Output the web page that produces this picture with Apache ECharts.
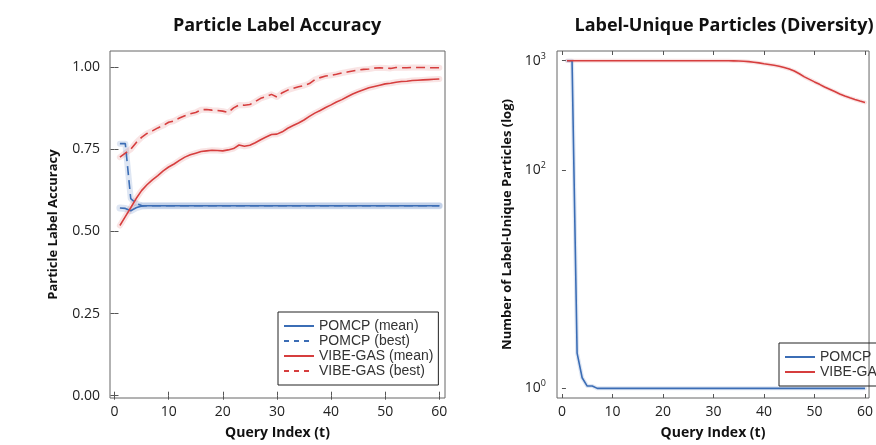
<!DOCTYPE html>
<html><head><meta charset="utf-8">
<script src="https://cdn.jsdelivr.net/npm/echarts@6/dist/echarts.min.js"></script>
<style>html,body{margin:0;padding:0;background:#fff}#c{width:876px;height:445px}</style>
</head><body><div id="c"></div>
<script>
// ---------- data ----------
const queryIndex = [1,2,3,4,5,6,7,8,9,10,11,12,13,14,15,16,17,18,19,20,21,22,23,24,25,26,27,28,29,30,
  31,32,33,34,35,36,37,38,39,40,41,42,43,44,45,46,47,48,49,50,51,52,53,54,55,56,57,58,59,60];
const xTicks = [0,10,20,30,40,50,60];
const accTicks = [0,0.25,0.5,0.75,1.0];
const divTicks = [1,100,1000];

const pomcpMeanAcc = [0.571,0.570,0.563,0.572,0.577,0.578,0.578,0.578,0.578,0.578,0.578,0.578,0.578,0.578,0.578,
  0.578,0.578,0.578,0.578,0.578,0.578,0.578,0.578,0.578,0.578,0.578,0.578,0.578,0.578,0.578,
  0.578,0.578,0.578,0.578,0.578,0.578,0.578,0.578,0.578,0.578,0.578,0.578,0.578,0.578,0.578,
  0.578,0.578,0.578,0.578,0.578,0.578,0.578,0.578,0.578,0.578,0.578,0.578,0.578,0.578,0.578];
const pomcpBestAcc = [0.767,0.767,0.600,0.585,0.579,0.578,0.578,0.578,0.578,0.578,0.578,0.578,0.578,0.578,0.578,
  0.578,0.578,0.578,0.578,0.578,0.578,0.578,0.578,0.578,0.578,0.578,0.578,0.578,0.578,0.578,
  0.578,0.578,0.578,0.578,0.578,0.578,0.578,0.578,0.578,0.578,0.578,0.578,0.578,0.578,0.578,
  0.578,0.578,0.578,0.578,0.578,0.578,0.578,0.578,0.578,0.578,0.578,0.578,0.578,0.578,0.578];
const vibeMeanAcc = [0.518,0.545,0.572,0.600,0.624,0.642,0.657,0.670,0.684,0.696,0.705,0.716,0.726,0.733,0.738,
  0.743,0.745,0.747,0.746,0.745,0.748,0.752,0.763,0.759,0.762,0.770,0.779,0.787,0.795,0.796,
  0.803,0.814,0.822,0.830,0.839,0.850,0.860,0.868,0.877,0.885,0.894,0.901,0.910,0.918,0.925,
  0.931,0.937,0.941,0.945,0.949,0.951,0.954,0.956,0.957,0.959,0.960,0.961,0.962,0.963,0.964];
const vibeBestAcc = [0.726,0.738,0.750,0.770,0.786,0.798,0.806,0.815,0.822,0.832,0.836,0.845,0.852,0.858,0.862,
  0.870,0.871,0.869,0.868,0.866,0.862,0.876,0.885,0.884,0.886,0.895,0.905,0.910,0.917,0.909,
  0.922,0.930,0.935,0.940,0.944,0.950,0.962,0.968,0.973,0.975,0.978,0.982,0.985,0.988,0.991,
  0.993,0.994,0.997,0.998,0.997,0.996,0.999,0.998,0.998,0.999,0.999,0.999,0.998,0.998,0.998];
const pomcpDiv = [1000,1000,2.1,1.25,1.05,1.05,1.0,1.0,1.0,1.0,1.0,1.0,1.0,1.0,1.0,
  1.0,1.0,1.0,1.0,1.0,1.0,1.0,1.0,1.0,1.0,1.0,1.0,1.0,1.0,1.0,
  1.0,1.0,1.0,1.0,1.0,1.0,1.0,1.0,1.0,1.0,1.0,1.0,1.0,1.0,1.0,
  1.0,1.0,1.0,1.0,1.0,1.0,1.0,1.0,1.0,1.0,1.0,1.0,1.0,1.0,1.0];
const vibeDiv = [1000,1000,1000,1000,1000,1000,1000,1000,1000,1000,1000,1000,1000,1000,1000,
  1000,1000,1000,1000,1000,1000,1000,1000,1000,1000,1000,1000,1000,1000,1000,
  1000,1000,999,997,994,989,981,970,956,940,925,908,890,866,840,
  805,760,712,675,640,608,575,548,522,497,475,458,442,428,415];

// ---------- style ----------
const BLUE = '#3B6DB5', RED = '#D63E3E';
const BLUE_BAND = 'rgba(59,109,181,0.17)', RED_BAND = 'rgba(214,62,62,0.14)';
const FONT = '"Open Sans", sans-serif';
const LFONT = '"Liberation Sans", Arial, sans-serif';
const pairs = arr => queryIndex.map((t, i) => [t, arr[i]]);
const tickStyle = {inside: true, length: 4, lineStyle: {color: '#555', width: 1}};
const labelStyle = {fontFamily: FONT, fontSize: 14, color: '#222'};
const nameStyle = {fontFamily: FONT, fontWeight: 'bold', color: '#111'};

function xAxisPair(gridIndex, min, max) {
  return [
    {type: 'value', gridIndex, min, max, position: 'bottom',
     name: 'Query Index (t)', nameLocation: 'middle', nameGap: 28,
     nameTextStyle: Object.assign({fontSize: 14}, nameStyle),
     axisLine: {show: false}, splitLine: {show: false},
     axisTick: Object.assign({customValues: xTicks}, tickStyle),
     axisLabel: Object.assign({customValues: xTicks, margin: 7}, labelStyle)},
    {type: 'value', gridIndex, min, max, position: 'top',
     axisLine: {show: false}, splitLine: {show: false},
     axisTick: Object.assign({customValues: xTicks}, tickStyle),
     axisLabel: {show: false}}
  ];
}

function line(name, data, color, dashed, xi, yi, z) {
  return {type: 'line', name, data: pairs(data), xAxisIndex: xi, yAxisIndex: yi,
    symbol: 'none', showSymbol: false, z: z,
    lineStyle: {color, width: 1.6, type: dashed ? [9, 5] : 'solid'}, itemStyle: {color},
    emphasis: {disabled: true}};
}
function band(data, color, width, xi, yi, z) {
  return {type: 'line', name: '_band', data: pairs(data), xAxisIndex: xi, yAxisIndex: yi,
    symbol: 'none', showSymbol: false, silent: true, z: z,
    lineStyle: {color, width, cap: 'round', join: 'round'}, emphasis: {disabled: true}, tooltip: {show: false}};
}

const legendBase = {orient: 'vertical', padding: [7, 5, 7, 5], borderColor: '#222', borderWidth: 1,
  itemWidth: 30, itemHeight: 14, itemGap: 1, selectedMode: false,
  itemStyle: {color: 'rgba(0,0,0,0)', borderWidth: 0, opacity: 0},
  textStyle: {fontFamily: LFONT, fontSize: 14, color: '#333'}};

const option = {
  animation: false,
  backgroundColor: '#fff',
  title: [
    {text: 'Particle Label Accuracy', left: 277, top: 17, textAlign: 'center', padding: 0,
     textStyle: {fontFamily: FONT, fontWeight: 'bold', fontSize: 18, color: '#111'}},
    {text: 'Label-Unique Particles (Diversity)', left: 724, top: 17, textAlign: 'center', padding: 0,
     textStyle: {fontFamily: FONT, fontWeight: 'bold', fontSize: 18, color: '#111'}}
  ],
  grid: [
    {left: 110, top: 51, width: 335, height: 348, show: true, borderColor: '#666', borderWidth: 1, backgroundColor: '#fff'},
    {left: 557, top: 51, width: 335, height: 348, show: true, borderColor: '#666', borderWidth: 1, backgroundColor: '#fff'}
  ],
  xAxis: [].concat(xAxisPair(0, -0.83, 61.05), xAxisPair(1, -0.98, 60.8)),
  yAxis: [
    {type: 'value', gridIndex: 0, min: -0.007, max: 1.049, position: 'left',
     name: 'Particle Label Accuracy', nameLocation: 'middle', nameGap: 50,
     nameTextStyle: Object.assign({fontSize: 13}, nameStyle),
     axisLine: {show: false}, splitLine: {show: false},
     axisTick: Object.assign({customValues: accTicks}, tickStyle),
     axisLabel: Object.assign({customValues: accTicks, margin: 10, formatter: v => v.toFixed(2)}, labelStyle)},
    {type: 'value', gridIndex: 0, min: -0.007, max: 1.049, position: 'right',
     axisLine: {show: false}, splitLine: {show: false},
     axisTick: Object.assign({customValues: accTicks}, tickStyle), axisLabel: {show: false}},
    {type: 'log', logBase: 10, gridIndex: 1, min: 0.816, max: 1228, position: 'left',
     name: 'Number of Label-Unique Particles (log)', nameLocation: 'middle', nameGap: 43,
     nameTextStyle: Object.assign({fontSize: 13}, nameStyle),
     axisLine: {show: false}, splitLine: {show: false}, minorTick: {show: false},
     axisTick: Object.assign({customValues: divTicks}, tickStyle),
     axisLabel: {customValues: divTicks, margin: 11,
       formatter: v => '{b|10}{s|' + Math.round(Math.log10(v)) + '}',
       rich: {b: {fontFamily: FONT, fontSize: 14, color: '#222', lineHeight: 18},
              s: {fontFamily: FONT, fontSize: 9, color: '#222', verticalAlign: 'top', lineHeight: 11}}}}
  ],
  legend: [
    Object.assign({left: 278, top: 312, data: [
      {name: 'POMCP (mean)'},
      {name: 'POMCP (best)', lineStyle: {type: [5, 5]}},
      {name: 'VIBE-GAS (mean)'},
      {name: 'VIBE-GAS (best)', lineStyle: {type: [5, 5]}}
    ]}, legendBase),
    Object.assign({left: 779, top: 343, data: [{name: 'POMCP'}, {name: 'VIBE-GAS'}]}, legendBase)
  ],
  series: [
    band(pomcpMeanAcc, BLUE_BAND, 7, 0, 0, 1),
    band(pomcpBestAcc, BLUE_BAND, 6, 0, 0, 1),
    band(vibeMeanAcc, RED_BAND, 6, 0, 0, 1),
    band(vibeBestAcc, RED_BAND, 6, 0, 0, 1),
    line('POMCP (mean)', pomcpMeanAcc, BLUE, false, 0, 0, 3),
    line('POMCP (best)', pomcpBestAcc, BLUE, true, 0, 0, 3),
    line('VIBE-GAS (mean)', vibeMeanAcc, RED, false, 0, 0, 4),
    line('VIBE-GAS (best)', vibeBestAcc, RED, true, 0, 0, 4),
    band(pomcpDiv, BLUE_BAND, 4, 2, 2, 1),
    band(vibeDiv, RED_BAND, 4, 2, 2, 1),
    line('POMCP', pomcpDiv, BLUE, false, 2, 2, 3),
    line('VIBE-GAS', vibeDiv, RED, false, 2, 2, 4)
  ]
};
const chart = echarts.init(document.getElementById('c'), null, {renderer: 'canvas'});
chart.setOption(option);
</script>
</body></html>
